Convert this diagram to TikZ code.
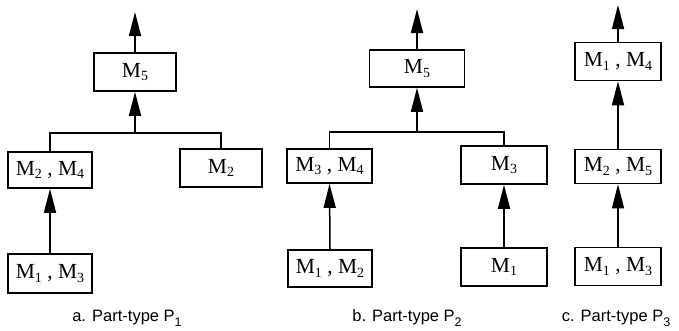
\documentclass[tikz,border=0pt]{standalone}
\usepackage{fontspec}
\setmainfont{Liberation Serif}
\newfontfamily\capfont{Liberation Sans}
\usetikzlibrary{arrows.meta}
\newcommand\msub[1]{\raisebox{-0.35ex}{\fontsize{14}{14}\selectfont #1}}
\newcommand\csub[1]{\raisebox{-0.6ex}{\fontsize{12.5}{12.5}\selectfont #1}}
\tikzset{
  mbox/.style={draw, line width=1.6pt, inner sep=0pt, font=\fontsize{21.5}{21.5}\selectfont},
  arr/.style={line width=1.5pt, -{Triangle[length=24pt,width=12pt]}},
  ln/.style={line width=1.5pt},
  captext/.style={font=\capfont\fontsize{16.5}{16.5}\selectfont, inner sep=0pt}
}
\begin{document}
\begin{tikzpicture}[x=1pt,y=-1pt]
\useasboundingbox (0,0) rectangle (679,330);
% panel a
\node[mbox, minimum width=82pt, minimum height=38pt] (M5a) at (135,72) {M\msub{5}};
\node[mbox, minimum width=84pt, minimum height=36pt] (M24a) at (50,170) {M\msub{2} , M\msub{4}};
\node[mbox, minimum width=82pt, minimum height=38pt] (M2a) at (221,168) {M\msub{2}};
\node[mbox, minimum width=84pt, minimum height=39pt] (M13a) at (50,273.5) {M\msub{1} , M\msub{3}};
\coordinate (topa) at (135,12);
\coordinate (ja) at (135,133);
\draw[arr] (M5a.north) -- (topa);
\draw[arr] (ja) -- (M5a.south);
\draw[ln] (M24a.north) |- (ja) -| (M2a.north);
\draw[arr] (M13a.north) -- (M24a.south);
\node[captext] (capa) at (127,318) {a. Part-type P\csub{1}};
% panel b
\node[mbox, minimum width=95pt, minimum height=37pt] (M5b) at (417,68.5) {M\msub{5}};
\node[mbox, minimum width=85pt, minimum height=34pt] (M34b) at (329.5,166) {M\msub{3} , M\msub{4}};
\node[mbox, minimum width=86pt, minimum height=38pt] (M3b) at (504,165) {M\msub{3}};
\node[mbox, minimum width=84pt, minimum height=37pt] (M12b) at (330,268.5) {M\msub{1} , M\msub{2}};
\node[mbox, minimum width=86pt, minimum height=38pt] (M1b) at (504,267) {M\msub{1}};
\coordinate (topb) at (417,9);
\coordinate (jb) at (417,132);
\draw[arr] (M5b.north) -- (topb);
\draw[arr] (jb) -- (M5b.south);
\draw[ln] (M34b.north) |- (jb) -| (M3b.north);
\draw[arr] (M12b.north) -- (M34b.south);
\draw[arr] (M1b.north) -- (M3b.south);
\node[captext] (capb) at (407,318) {b. Part-type P\csub{2}};
% panel c
\node[mbox, minimum width=86pt, minimum height=38pt] (M14c) at (618,61.5) {M\msub{1} , M\msub{4}};
\node[mbox, minimum width=86pt, minimum height=34pt] (M25c) at (618,166.5) {M\msub{2} , M\msub{5}};
\node[mbox, minimum width=86pt, minimum height=38pt] (M13c) at (618,266.5) {M\msub{1} , M\msub{3}};
\coordinate (topc) at (618,5);
\draw[arr] (M14c.north) -- (topc);
\draw[arr] (M25c.north) -- (M14c.south);
\draw[arr] (M13c.north) -- (M25c.south);
\node[captext] (capc) at (616,318) {c. Part-type P\csub{3}};
\end{tikzpicture}
\end{document}
